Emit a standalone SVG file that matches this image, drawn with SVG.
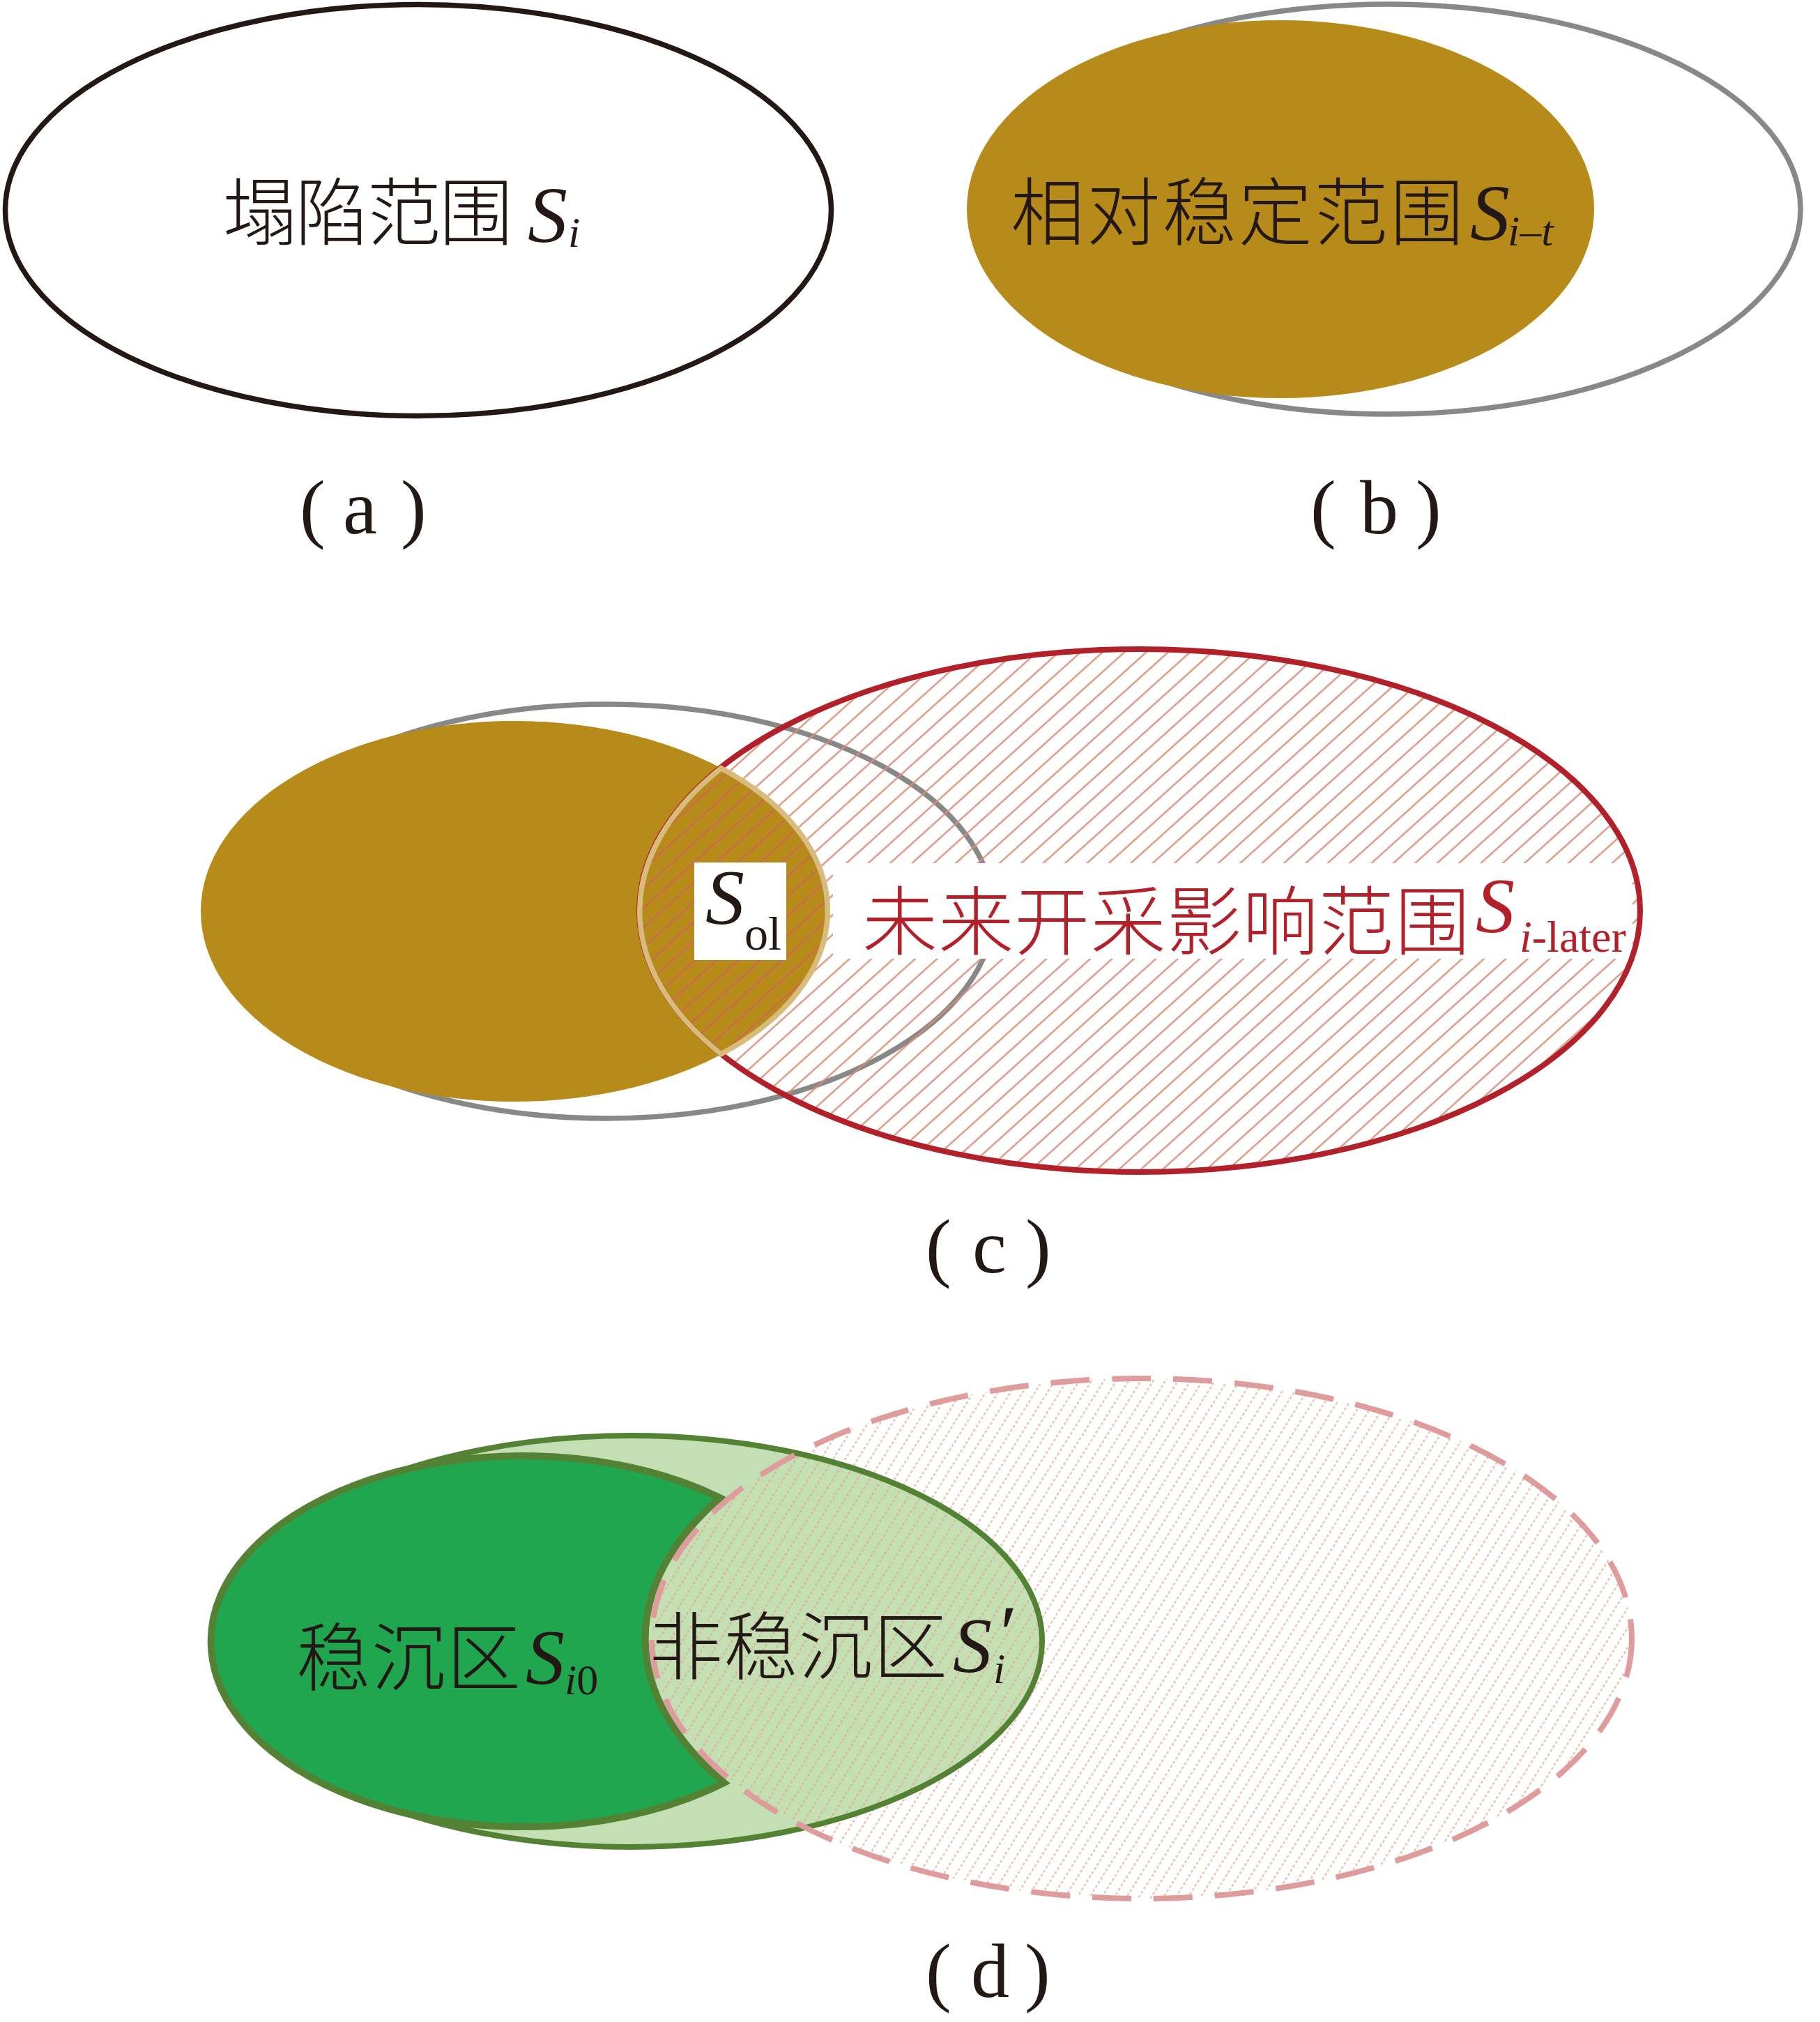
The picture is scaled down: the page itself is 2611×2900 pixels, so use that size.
<svg xmlns="http://www.w3.org/2000/svg" width="2611" height="2900" viewBox="0 0 2611 2900">
<defs>
<style>
.cjk{font-family:"Noto Sans CJK SC","Noto Sans CJK JP",sans-serif;font-weight:300;}
.ser{font-family:"Liberation Serif","Times New Roman",serif;}
.it{font-style:italic;}
.dk{fill:#231815;}
.rd{fill:#B2202A;}
.lbl{font-family:"Liberation Serif","Times New Roman",serif;font-size:110px;fill:#231815;}
</style>
<pattern id="hc" patternUnits="userSpaceOnUse" width="21" height="21" patternTransform="rotate(-42)">
<line x1="0" y1="10.5" x2="21" y2="10.5" stroke="#D88C74" stroke-width="2.2"/>
</pattern>
<pattern id="hl" patternUnits="userSpaceOnUse" width="21" height="21" patternTransform="rotate(-42)">
<line x1="0" y1="10.5" x2="21" y2="10.5" stroke="#C4683A" stroke-width="2.2"/>
</pattern>
<pattern id="hd" patternUnits="userSpaceOnUse" width="14" height="15" patternTransform="rotate(-58)">
<line x1="0" y1="7.5" x2="14" y2="7.5" stroke="#DFA488" stroke-opacity="0.8" stroke-width="1.8" stroke-dasharray="4 3"/>
</pattern>
</defs>
<rect width="2611" height="2900" fill="#FFFFFF"/>

<g id="panel-a">
<ellipse id="collapse-range" cx="600" cy="301.5" rx="592.5" ry="295" fill="none" stroke="#231815" stroke-width="7.5"/>
<text class="cjk dk" x="320" y="343" font-size="106" textLength="416" lengthAdjust="spacing">塌陷范围</text>
<text class="ser it dk" x="757" y="347" font-size="114">S</text>
<text class="ser it dk" x="815" y="354" font-size="62">i</text>
<text class="lbl" y="765"><tspan x="430">(</tspan><tspan x="492">a</tspan><tspan x="575">)</tspan></text>
</g>

<g id="panel-b">
<ellipse id="b-collapse" cx="1991" cy="300" rx="592" ry="294" fill="none" stroke="#888888" stroke-width="7.5"/>
<ellipse id="b-stable" cx="1837" cy="300" rx="450" ry="271" fill="#B78B1A"/>
<text class="cjk dk" x="1450" y="343" font-size="106" textLength="650" lengthAdjust="spacing">相对稳定范围</text>
<text class="ser it dk" x="2109" y="344" font-size="114">S</text>
<text class="ser it dk" x="2163" y="352" font-size="62">i–t</text>
<text class="lbl" y="765"><tspan x="1880">(</tspan><tspan x="1951">b</tspan><tspan x="2031">)</tspan></text>
</g>

<g id="panel-c">
<ellipse id="c-collapse" cx="870" cy="1307" rx="555" ry="297" fill="none" stroke="#888888" stroke-width="7.5"/>
<ellipse id="c-stable" cx="738" cy="1307" rx="450" ry="273" fill="#B78B1A"/>
<ellipse id="c-future-fill" cx="1635" cy="1306" rx="718" ry="375" fill="url(#hc)"/>
<path id="c-overlap" d="M1034.5,1101.7 A450,273 0 0,1 1034.5,1511.7 A718,375 0 0,1 1034.5,1101.7 Z" fill="url(#hl)"/>
<rect id="c-band" x="1195" y="1238" width="1147" height="137" fill="#FFFFFF"/>
<rect id="c-ol-box" x="996" y="1237" width="132" height="140" fill="#FFFFFF"/>
<ellipse id="c-future" cx="1635" cy="1306" rx="718" ry="375" fill="none" stroke="#B2202A" stroke-width="8"/>
<path id="c-overlap-edge" d="M1034.5,1101.7 A450,273 0 0,1 1034.5,1511.7 A718,375 0 0,1 1034.5,1101.7 Z" fill="none" stroke="#D8BC7B" stroke-width="7.5" stroke-miterlimit="10"/>
<text class="ser it dk" x="1012" y="1325" font-size="112">S</text>
<text class="ser dk" x="1068" y="1362" font-size="68">ol</text>
<text class="cjk rd" x="1237" y="1361" font-size="108" textLength="872" lengthAdjust="spacing">未来开采影响范围</text>
<text class="ser it rd" x="2117" y="1337" font-size="112">S</text>
<text class="ser rd" x="2180" y="1365" font-size="64"><tspan class="it">i</tspan>-later</text>
<text class="lbl" y="1825"><tspan x="1328">(</tspan><tspan x="1395">c</tspan><tspan x="1471">)</tspan></text>
</g>

<g id="panel-d">
<ellipse id="d-collapse-fill" cx="905" cy="2354" rx="590" ry="295" fill="#C5DFB4"/>
<ellipse id="d-future-fill" cx="1638" cy="2350" rx="703" ry="373" fill="url(#hd)"/>
<ellipse id="d-collapse" cx="905" cy="2354" rx="590" ry="295" fill="none" stroke="#538234" stroke-width="8"/>
<path id="d-stable-zone" d="M1033,2148.3 A447,266 0 1,0 1039,2556.8 A712,382 0 0,1 1033,2148.3 Z" fill="#1FA64E" stroke="#538234" stroke-width="10" stroke-miterlimit="10"/>
<ellipse id="d-future" cx="1638" cy="2350" rx="703" ry="373" fill="none" stroke="#DE9C9C" stroke-width="8" stroke-dasharray="56 32"/>
<text class="cjk dk" x="425" y="2416" font-size="106" textLength="322" lengthAdjust="spacing">稳沉区</text>
<text class="ser it dk" x="754" y="2415" font-size="112">S</text>
<text class="ser dk" x="810" y="2430" font-size="62"><tspan class="it">i</tspan>0</text>
<text class="cjk dk" x="931" y="2400" font-size="106" textLength="428" lengthAdjust="spacing">非稳沉区</text>
<text class="ser it dk" font-size="112"><tspan x="1367" y="2398">S</tspan><tspan x="1428" y="2380">′</tspan><tspan x="1425" y="2414" font-size="62">i</tspan></text>
<text class="lbl" y="2864"><tspan x="1328">(</tspan><tspan x="1393">d</tspan><tspan x="1470">)</tspan></text>
</g>
</svg>
